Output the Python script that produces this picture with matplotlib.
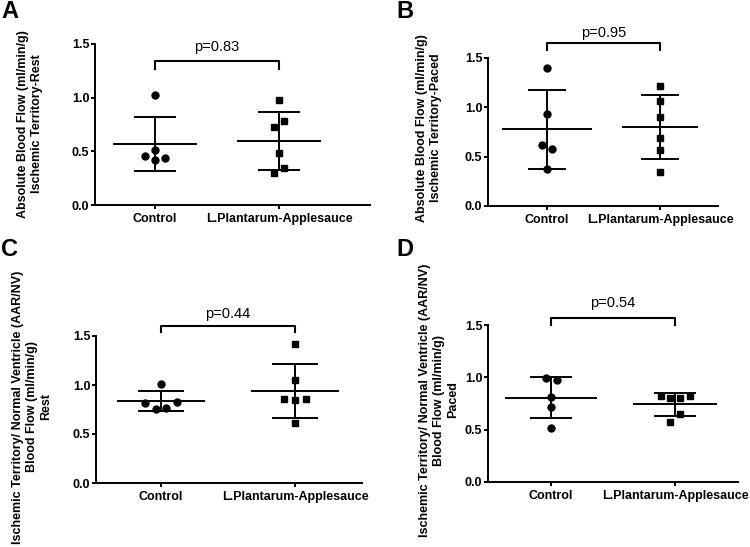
import matplotlib
matplotlib.use("Agg")
import matplotlib.pyplot as plt
import numpy as np

plt.rcParams['font.family'] = ['Liberation Sans', 'DejaVu Sans']

groups = ["Control", "L.Plantarum-Applesauce"]

# panel A: absolute flow, rest
a_control = [1.025, 0.46, 0.51, 0.42, 0.435]
a_lp = [0.976, 0.731, 0.786, 0.482, 0.295, 0.348]
a_mean = [0.568, 0.60]
a_sd = [0.255, 0.27]

# panel B: absolute flow, paced
b_control = [1.395, 0.93, 0.62, 0.58, 0.37]
b_lp = [1.22, 1.06, 0.90, 0.69, 0.57, 0.34]
b_mean = [0.78, 0.80]
b_sd = [0.40, 0.32]

# panel C: AAR/NV ratio, rest
c_control = [1.009, 0.82, 0.826, 0.752, 0.765]
c_lp = [1.419, 1.05, 0.853, 0.847, 0.857, 0.61]
c_mean = [0.836, 0.938]
c_sd = [0.105, 0.274]

# panel D: AAR/NV ratio, paced
d_control = [0.99, 0.976, 0.81, 0.715, 0.515]
d_lp = [0.823, 0.80, 0.80, 0.823, 0.645, 0.569]
d_mean = [0.807, 0.744]
d_sd = [0.195, 0.111]

p_values = ["p=0.83", "p=0.95", "p=0.44", "p=0.54"]

# horizontal scatter of the dots (fraction of group spacing)
a_jit = ([0, -0.08, 0, 0, 0.08], [0, -0.043, 0.04, 0, -0.043, 0.04])
b_jit = ([0, 0, -0.044, 0.04, 0], [0, 0, 0, 0, 0, 0])
c_jit = ([0, -0.12, 0.12, -0.04, 0.04], [0, 0, -0.085, 0, 0.08, 0])
d_jit = ([-0.038, 0.048, 0, 0, 0], [-0.116, -0.04, 0.04, 0.12, 0.04, -0.04])

fig = plt.figure(figsize=(7.5, 5.47), dpi=100)
W, H = 750, 547


def make_axes(left, right, top, bottom):
    return fig.add_axes([left / W, 1 - bottom / H, (right - left) / W, (bottom - top) / H])


def panel(ax, ctrl, lp, mean, sd, jit, xlim, ptxt, br_y, br_drop, txt_y, mhalf):
    ax.set_xlim(*xlim)
    ax.set_ylim(0, 1.5)
    for i, (vals, mk) in enumerate([(ctrl, 'o'), (lp, 's')]):
        xs = np.array(jit[i]) + i
        ax.vlines(i, mean[i] - sd[i], mean[i] + sd[i], color='k', lw=1.4, zorder=2)
        ax.hlines(mean[i], i - mhalf[i], i + mhalf[i], color='k', lw=1.4, zorder=2)
        ax.hlines([mean[i] - sd[i], mean[i] + sd[i]], i - 0.17, i + 0.17, color='k', lw=1.4, zorder=2)
        ax.plot(xs, vals, mk, color='k', ms=5, zorder=3, clip_on=False)
    # bracket
    ax.plot([0, 0, 1, 1], [br_drop, br_y, br_y, br_drop], color='k', lw=1.5, clip_on=False)
    ax.text(0.5, txt_y, ptxt, ha='center', va='center', fontsize=10.5)
    ax.spines['top'].set_visible(False)
    ax.spines['right'].set_visible(False)
    for s in ['left', 'bottom']:
        ax.spines[s].set_linewidth(1.4)
    ax.set_xticks([0, 1])
    ax.set_xticklabels(groups, fontsize=9, fontweight='bold')
    ax.set_yticks([0, 0.5, 1.0, 1.5])
    ax.set_yticklabels(["0.0", "0.5", "1.0", "1.5"], fontsize=9, fontweight='bold')
    ax.tick_params(axis='y', length=3, width=1.4, pad=1)
    ax.tick_params(axis='x', length=3, width=1.4, pad=3)


axA = make_axes(95, 370, 44, 205)
panel(axA, a_control, a_lp, a_mean, a_sd, a_jit, (-0.48, 1.73), p_values[0], 1.345, 1.265, 1.47, (0.336, 0.336))
axB = make_axes(488, 718, 58, 206)
panel(axB, b_control, b_lp, b_mean, b_sd, b_jit, (-0.522, 1.513), p_values[1], 1.65, 1.58, 1.75, (0.40, 0.34))
axC = make_axes(96, 362, 336, 483)
panel(axC, c_control, c_lp, c_mean, c_sd, c_jit, (-0.485, 1.5), p_values[2], 1.60, 1.545, 1.72, (0.33, 0.33))
axD = make_axes(488, 738, 325, 482)
panel(axD, d_control, d_lp, d_mean, d_sd, d_jit, (-0.508, 1.508), p_values[3], 1.563, 1.50, 1.71, (0.37, 0.34))

# y labels
ylabels = [
    (30, 124, "Absolute Blood Flow (ml/min/g)\nIschemic Territory-Rest"),
    (429, 128, "Absolute Blood Flow (ml/min/g)\nIschemic Territory-Paced"),
    (32, 407, "Ischemic Territory/ Normal Ventricle (AAR/NV)\nBlood Flow (ml/min/g)\nRest"),
    (439, 400, "Ischemic Territory/ Normal Ventricle (AAR/NV)\nBlood Flow (ml/min/g)\nPaced"),
]
for x, y, t in ylabels:
    fig.text(x / W, 1 - y / H, t, rotation=90, ha='center', va='center',
             fontsize=9, fontweight='bold', multialignment='center', linespacing=1.2)

# panel letters
for x, y, t in [(1, 11, "A"), (396, 11, "B"), (1, 250, "C"), (396, 250, "D")]:
    fig.text(x / W, 1 - y / H, t, ha='left', va='center', fontsize=17, fontweight='bold')

plt.savefig("out.png", dpi=100)
plt.close()
